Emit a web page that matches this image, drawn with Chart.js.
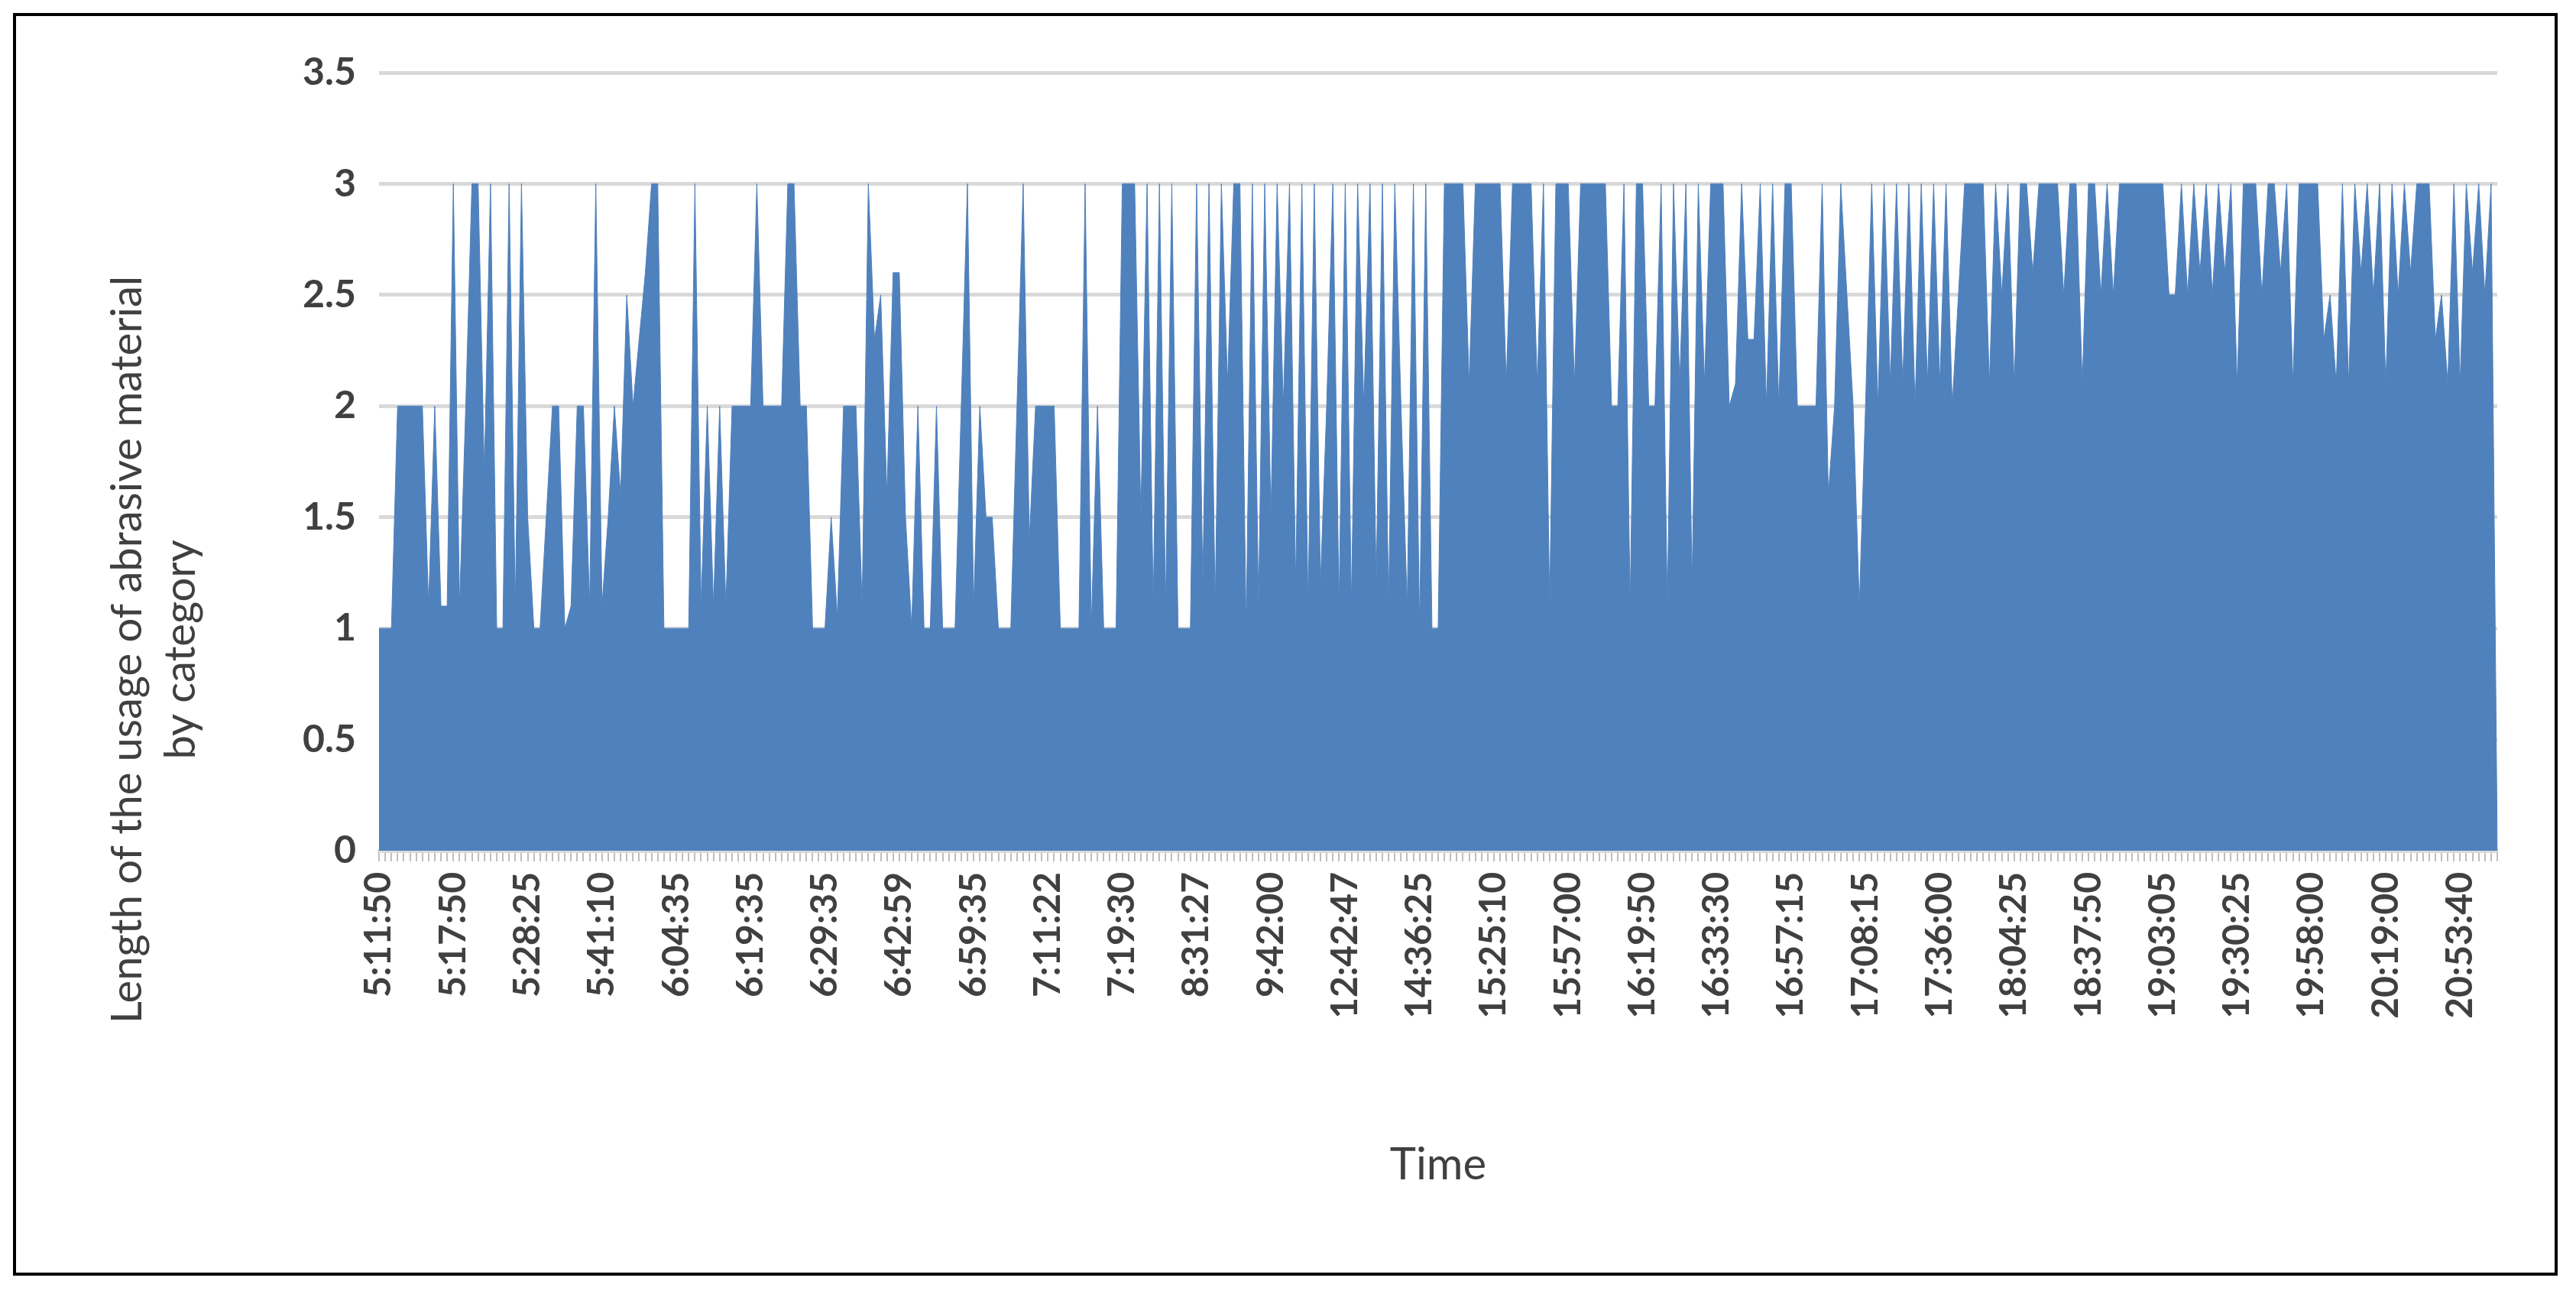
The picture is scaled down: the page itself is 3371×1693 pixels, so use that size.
<!DOCTYPE html>
<html>
<head>
<meta charset="utf-8">
<script src="https://cdn.jsdelivr.net/npm/chart.js@4"></script>
<style>
  body { margin: 0; background: #fff; }
  #wrap { position: absolute; left: 0; top: 0; width: 3371px; height: 1693px; }
  #frame { position: absolute; left: 17px; top: 17px; width: 3330px; height: 1652px; border: 4px solid #000; box-sizing: border-box; }
</style>
</head>
<body>
<div id="wrap">
  <div id="frame"></div>
  <canvas id="chart" width="3371" height="1693"></canvas>
</div>
<script>
// tick labels, one per group of readings
const tickLabels = ['5:11:50','5:17:50','5:28:25','5:41:10','6:04:35','6:19:35','6:29:35','6:42:59',
  '6:59:35','7:11:22','7:19:30','8:31:27','9:42:00','12:42:47','14:36:25','15:25:10','15:57:00',
  '16:19:50','16:33:30','16:57:15','17:08:15','17:36:00','18:04:25','18:37:50','19:03:05',
  '19:30:25','19:58:00','20:19:00','20:53:40'];

// usage length by category, grouped per tick label
const groups = [
  [1,1,1,2,2,2,2,2,1.1,2,1.1,1.1],
  [3,1.1,2,3,3,1.7,3,1,1,3,1.1,3],
  [1.5,1,1,1.5,2,2,1,1.1,2,2,1.1,3],
  [1.1,1.5,2,1.6,2.5,2,2.3,2.6,3,3,1,1],
  [1,1,1,3,1.1,2,1.1,2,1.1,2,2,2],
  [2,3,2,2,2,2,3,3,2,2,1,1],
  [1,1.5,1.05,2,2,2,1.1,3,2.3,2.5,1.6,2.6],
  [2.6,1.5,1,2,1,1,2,1,1,1,2,3],
  [1.1,2,1.5,1.5,1,1,1,2,3,1.4,2,2],
  [2,2,1,1,1,1,3,1,2,1,1,1],
  [3,3,3,1.5,3,1.1,3,1.1,3,1,1,1],
  [3,1.2,3,1.1,3,2.1,3,3,1,3,1.1,3],
  [1.5,3,2,3,1.2,3,1.1,3,1.2,2,3,1.1],
  [3,1.1,3,2,3,1.2,3,1.1,3,2,1.1,3],
  [1,3,1,1,3,3,3,3,2.1,3,3,3],
  [3,3,2.1,3,3,3,3,2.1,3,1.1,3,3],
  [3,2.1,3,3,3,3,3,2,2,3,1.1,3],
  [3,2,2,3,1.1,3,2.1,3,1.2,3,2.1,3],
  [3,3,2,2.1,3,2.3,2.3,3,2,3,2,3],
  [3,2,2,2,2,3,1.6,2,3,2.5,2,1.1],
  [2,3,2,3,2.1,3,2.1,3,2,3,2.1,3],
  [2.1,3,2,2.5,3,3,3,3,2.1,3,2.5,3],
  [2.1,3,3,2.6,3,3,3,3,2.5,3,3,2.1],
  [3,3,2.5,3,2.5,3,3,3,3,3,3,3],
  [3,2.5,2.5,3,2.5,3,2.6,3,2.5,3,2.6,3],
  [2.1,3,3,3,2.5,3,3,2.6,3,2.1,3,3],
  [3,3,2.3,2.5,2.1,3,2.1,3,2.6,3,2.5,3],
  [2.1,3,2.5,3,2.6,3,3,3,2.3,2.5,2.1,3],
  [2.1,3,2.6,3,2.5,3,0]
];

const labels = [];
const values = [];
groups.forEach((g, i) => {
  g.forEach((v, j) => {
    labels.push(j === 0 ? tickLabels[i] : '');
    values.push(v);
  });
});

const font = 'Lato, "Liberation Sans", sans-serif';

const yTitle = {
  id: 'yTitle',
  afterDraw(chart) {
    const ctx = chart.ctx;
    ctx.save();
    ctx.translate(215, 850);
    ctx.rotate(-Math.PI / 2);
    ctx.fillStyle = '#404040';
    ctx.font = '56px ' + font;
    ctx.textAlign = 'center';
    ctx.fillText('Length of the usage of abrasive material', 0, -30);
    ctx.fillText('by category', 0, 40);
    ctx.restore();
  }
};

new Chart(document.getElementById('chart'), {
  type: 'line',
  data: {
    labels: labels,
    datasets: [{
      data: values,
      fill: 'origin',
      backgroundColor: '#4F81BD',
      borderColor: '#4F81BD',
      borderWidth: 1,
      pointRadius: 0,
      tension: 0
    }]
  },
  options: {
    responsive: false,
    animation: false,
    layout: { padding: { left: 120, right: 103, top: 95, bottom: 130 } },
    plugins: { legend: { display: false }, tooltip: { enabled: false } },
    scales: {
      x: {
        offset: false,
        grid: { drawOnChartArea: false, color: '#bfbfbf', lineWidth: 2, tickLength: 14 },
        border: { color: '#d9d9d9', width: 4 },
        ticks: {
          autoSkip: false, maxRotation: 90, minRotation: 90,
          color: '#404040', font: { family: font, size: 48, weight: 'bold' }, padding: 14
        },
        title: { display: true, text: 'Time', color: '#404040', font: { family: font, size: 58 }, padding: { top: 18 } },
        afterFit: s => { s.height = 450; }
      },
      y: {
        min: 0, max: 3.5,
        grid: { color: '#d9d9d9', lineWidth: 5, drawTicks: false },
        border: { display: false },
        ticks: { stepSize: 0.5, callback: v => String(v), color: '#404040', font: { family: font, size: 50, weight: 'bold' }, padding: 30 },
        afterFit: s => { s.width = 376; }
      }
    }
  },
  plugins: [yTitle]
});
</script>
</body>
</html>
